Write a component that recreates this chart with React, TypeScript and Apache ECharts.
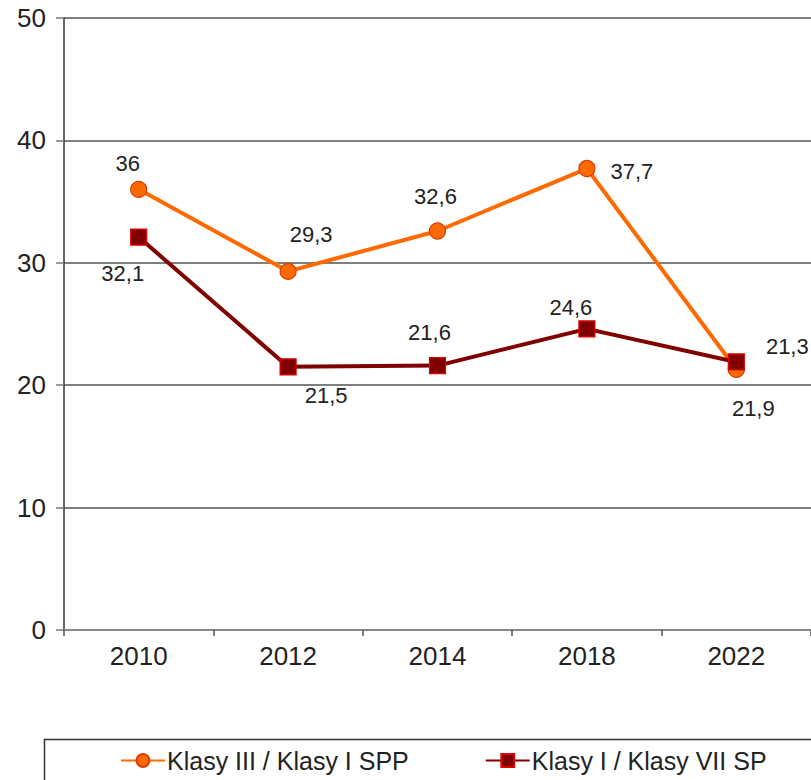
import React, { useEffect, useRef } from "react";
import * as echarts from "echarts";

const years = ["2010", "2012", "2014", "2018", "2022"];
const seriesANames = "Klasy III / Klasy I SPP";
const seriesBNames = "Klasy I / Klasy VII SP";
const seriesA = [36, 29.3, 32.6, 37.7, 21.3];
const seriesB = [32.1, 21.5, 21.6, 24.6, 21.9];

// label offsets (style only)
const offsetsA: [number, number][] = [[-11, -26], [23, -37], [-2, -34], [45, 3], [51, -23]];
const offsetsB: [number, number][] = [[-16, 36], [38, 29], [-8, -33], [-16, -21], [17, 47]];

const FONT = "Liberation Sans, Arial, sans-serif";
const fmt = (v: number) => String(v).replace(".", ",");

export default function App() {
  const ref = useRef<HTMLDivElement>(null);
  useEffect(() => {
    document.body.style.margin = "0";
    const chart = echarts.init(ref.current!, undefined, { renderer: "svg" });
    const mk = (vals: number[], offs: [number, number][]) =>
      vals.map((v, i) => ({
        value: v,
        label: { offset: offs[i] },
      }));
    chart.setOption({
      animation: false,
      backgroundColor: "#fff",
      grid: { left: 64, top: 18, width: 752, height: 612, containLabel: false },
      xAxis: {
        type: "category",
        data: years,
        boundaryGap: true,
        axisLine: { show: true, lineStyle: { color: "#888", width: 2 } },
        axisTick: { show: true, length: 6, lineStyle: { color: "#555", width: 1.5 } },
        axisLabel: { color: "#222", fontSize: 26, fontFamily: FONT, margin: 13 },
        splitLine: { show: false },
      },
      yAxis: {
        type: "value",
        min: 0,
        max: 50,
        interval: 10,
        axisLine: { show: true, lineStyle: { color: "#333", width: 1.5 } },
        axisTick: { show: true, length: 8, lineStyle: { color: "#777", width: 1.5 } },
        axisLabel: { color: "#222", fontSize: 26, fontFamily: FONT, margin: 18 },
        splitLine: { show: true, lineStyle: { color: "#555", width: 1.5 } },
      },
      legend: {
        left: 115,
        top: 743,
        itemWidth: 44,
        itemHeight: 16,
        itemGap: 76,
        textStyle: { color: "#222", fontSize: 25, fontFamily: FONT, padding: [0, 0, 0, -3] },
        data: [seriesANames, seriesBNames],
      },
      graphic: [
        {
          type: "rect",
          left: 42,
          top: 737,
          shape: { width: 800, height: 60 },
          style: { fill: "none", stroke: "#333", lineWidth: 1.5 },
          z: 0,
        },
      ],
      series: [
        {
          name: seriesANames,
          type: "line",
          data: mk(seriesA, offsetsA),
          symbol: "circle",
          symbolSize: 16,
          lineStyle: { color: "#FF6A00", width: 4 },
          itemStyle: { color: "#FF6A00", borderColor: "#D93D00", borderWidth: 1.2 },
          label: {
            show: true,
            position: "inside",
            formatter: (p: any) => fmt(p.value),
            color: "#222",
            fontSize: 22,
            fontFamily: FONT,
          },
        },
        {
          name: seriesBNames,
          type: "line",
          data: mk(seriesB, offsetsB),
          symbol: "rect",
          symbolSize: 16,
          lineStyle: { color: "#800000", width: 4 },
          itemStyle: { color: "#800000", borderColor: "#E00000", borderWidth: 1.2 },
          label: {
            show: true,
            position: "inside",
            formatter: (p: any) => fmt(p.value),
            color: "#222",
            fontSize: 22,
            fontFamily: FONT,
          },
        },
      ],
    });
    return () => chart.dispose();
  }, []);
  return <div ref={ref} style={{ width: 811, height: 780 }} />;
}
